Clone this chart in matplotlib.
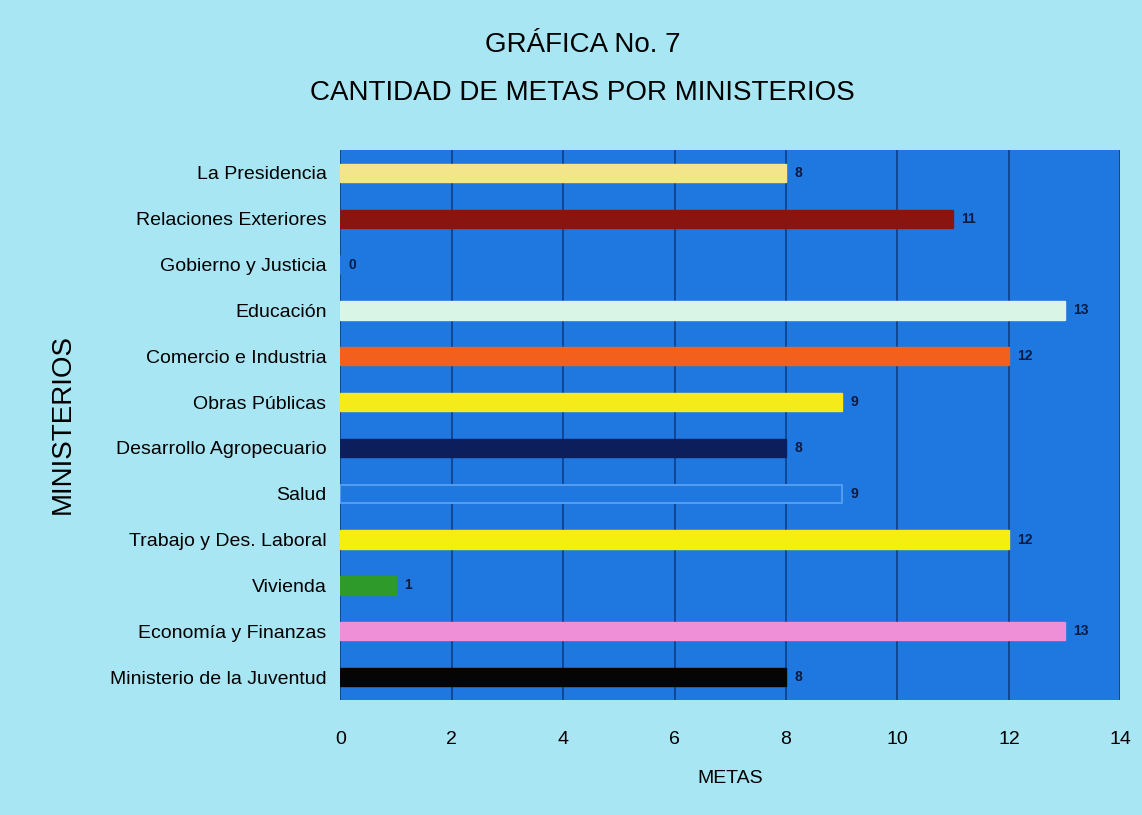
import matplotlib.pyplot as plt

ministerios = ["La Presidencia", "Relaciones Exteriores", "Gobierno y Justicia", "Educación",
               "Comercio e Industria", "Obras Públicas", "Desarrollo Agropecuario", "Salud",
               "Trabajo y Des. Laboral", "Vivienda", "Economía y Finanzas", "Ministerio de la Juventud"]
metas = [8, 11, 0, 13, 12, 9, 8, 9, 12, 1, 13, 8]
colores = ["#f3e68a", "#8a1410", "#1f78e0", "#d9f5e6", "#f3601c", "#f5ea1a",
           "#0c1f5c", "#1f78e0", "#f5ef10", "#2e9a2a", "#ef8fd8", "#050505"]
ticks_x = [0, 2, 4, 6, 8, 10, 12, 14]

plt.rcParams['font.family'] = ['Liberation Sans', 'DejaVu Sans']

fig = plt.figure(figsize=(11.42, 8.15), dpi=100)
fig.patch.set_facecolor("#a8e6f4")
ax = fig.add_axes([0.298, 0.141, 0.683, 0.675])
ax.set_facecolor("#1f78e0")

pos = list(range(len(ministerios)))
bars = ax.barh(pos, metas, height=0.4, color=colores, edgecolor=colores, zorder=3)
# Salud lleva solo un borde claro
bars[7].set_edgecolor("#4f9cf0")
bars[7].set_linewidth(1.5)

for p, v in zip(pos, metas):
    ax.text(v + 0.15, p, str(v), va="center", ha="left", fontsize=10,
            color="#0a1a40", fontweight="bold", zorder=4)

ax.set_xlim(0, 14)
ax.set_ylim(len(ministerios) - 0.5, -0.5)
ax.set_yticks(pos)
ax.set_yticklabels(ministerios, fontsize=14)
ax.set_xticks(ticks_x)
ax.set_xticklabels([str(t) for t in ticks_x], fontsize=14)
ax.tick_params(axis="x", length=0, pad=22)
ax.tick_params(axis="y", length=0, pad=10)
ax.grid(axis="x", color="#0d3f8a", linewidth=1.2, zorder=1)
for s in ax.spines.values():
    s.set_visible(False)

ax.set_xlabel("METAS", fontsize=14, labelpad=16)
fig.text(0.055, 0.48, "MINISTERIOS", rotation=90, fontsize=20, ha="center", va="center")

fig.text(0.51, 0.945, "GRÁFICA No. 7", fontsize=20, ha="center", va="center")
fig.text(0.51, 0.886, "CANTIDAD DE METAS POR MINISTERIOS", fontsize=20, ha="center", va="center")

fig.savefig("out.png", dpi=100, facecolor=fig.get_facecolor())
